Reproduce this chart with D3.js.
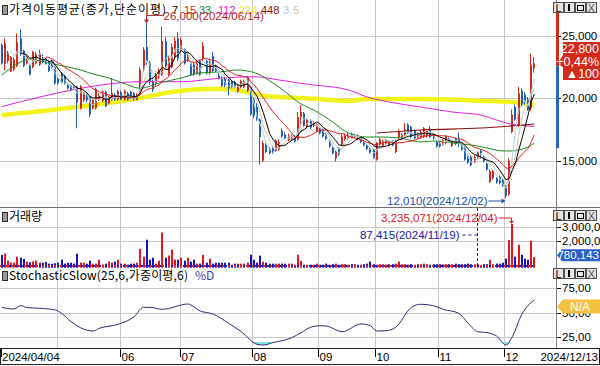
<!DOCTYPE html>
<html><head><meta charset="utf-8">
<script src="https://cdn.jsdelivr.net/npm/d3@7"></script>
<style>
html,body{margin:0;padding:0;background:#fff;overflow:hidden;}
svg{display:block;}
text{font-family:"Liberation Sans",Arial,sans-serif;}
.kr{font-family:"Noto Sans CJK KR","Noto Sans",sans-serif;}
</style></head><body>
<svg id="c" width="600" height="366"></svg>
<script>
// ---------------- DATA ----------------
const firstDate = "2024/04/04", lastDate = "2024/12/13";
const opens = [24250,22750,23000,22150,22300,22600,24800,23800,22800,22700,
22500,22800,22700,23300,23200,23000,23000,22500,21600,22000,
21800,21100,21000,20950,20950,19200,19850,20400,20100,19200,
19200,19900,19800,20500,19600,19900,20250,19900,20500,19900,
20400,20500,20400,19900,20300,22300,24100,22800,21300,21200,
21600,21900,24600,21900,22500,23300,24800,23900,23900,23100,
22800,22700,22000,23000,23200,23000,22000,23400,22500,21800,
21700,21600,21500,21300,21300,20550,20900,20900,20600,20900,
19900,19300,18300,15000,16250,15950,16000,15800,15900,17400,
17100,16650,16750,16950,16700,18500,18800,17700,18200,18000,
17400,17600,17500,17100,16600,16050,15200,16000,16300,16700,
16800,17150,16900,17000,16800,16550,16250,16000,15850,15100,
16300,16200,16350,16250,16500,15700,16700,16800,17100,17900,
17700,17400,16850,16850,16900,16950,17500,17050,16500,16450,
16300,16400,16750,16200,16750,16700,16350,16050,15400,15300,
14900,15200,15800,15300,14750,13300,13600,13600,13700,13450,
13000,12300,17300,19300,17800,20600,20300,19900,19200,22400];
const highs = [24400,24800,23800,23400,23300,25200,25550,23900,23500,22800,
23800,23700,23900,23500,23300,23100,23100,22600,21700,22100,
21900,21200,21100,21050,21000,21050,20500,20500,20200,19950,
20850,20400,20650,20600,20200,21600,20400,20700,20600,20700,
20500,20600,20500,20400,22500,24100,26000,23000,21500,22000,
22400,25750,24900,23400,24400,24900,25300,24900,24000,23700,
22900,22900,22900,23100,24500,23100,23200,23700,22700,22000,
21800,21700,21600,21400,21400,21150,21500,21500,21800,21000,
20100,19600,18400,16600,16400,16100,16200,16700,16700,17600,
17300,17150,17100,17050,18900,19450,18900,18400,18300,18150,
18000,17700,17600,17200,16700,16150,15800,16100,17100,17200,
17200,17250,17150,17100,16900,16650,16350,16100,15950,16500,
16850,16700,16750,16650,16650,16700,17500,17200,18000,18000,
17800,17500,17250,17500,17700,17550,17750,17150,16600,16550,
16750,17050,16850,16600,16850,17250,16450,16150,15500,15400,
15450,15750,15900,15400,14850,14300,14300,13700,13800,13550,
13050,15200,19100,19500,20900,20800,20500,20100,23600,23300];
const lows = [22700,22250,22800,22100,22200,22500,23400,22500,22700,21850,
22400,22700,22600,22800,22700,22100,22400,21100,21100,21200,
21100,20700,20600,20700,17600,19100,19700,19700,18500,19100,
19100,19800,19700,19300,19500,19800,19800,19800,19850,19800,
19800,19950,19800,19850,20200,22100,22700,21100,20500,21000,
21500,21800,22300,21800,22400,23100,23000,23700,22700,22900,
21800,21800,21900,21800,23000,21900,21900,22100,22100,21500,
20900,20900,20250,20800,20800,20450,20800,20800,20500,18600,
18400,18200,14700,14900,15600,15500,15550,15700,15800,16800,
16700,16550,16650,16450,16600,17700,17700,17600,17550,17700,
17300,17100,16850,16650,16050,15500,14950,15400,16200,16600,
16700,16800,16800,16650,16400,16150,15850,15550,15150,15000,
16200,16100,16250,16150,16150,15600,16600,16700,17000,17150,
16800,16700,16750,16750,16800,16850,16800,16700,16050,16050,
16200,16300,16450,16100,16250,16100,15800,15000,14750,14550,
14800,15100,15150,14850,14200,13200,13500,13150,13100,12900,
12010,12200,17200,18200,17700,19300,19500,19000,19000,22050];
const closes = [22800,24400,23600,23300,23100,24500,23600,22600,23400,21900,
23700,23500,23600,22900,22750,22200,22500,21200,21200,21300,
21200,20800,20700,20800,19650,20950,20400,19850,18700,19850,
20750,20250,20550,19350,20100,20400,19900,20550,19900,20600,
19900,20100,19900,20300,22300,23900,22900,21300,20700,21850,
22250,24600,22500,23200,24100,24600,23200,24700,22800,23400,
21900,21900,22800,21900,24200,22000,23000,22200,22200,21600,
21000,21100,20800,20900,20950,21050,21400,21350,21700,18700,
18600,18300,16900,16400,15700,15600,15650,16600,16500,16950,
16800,17000,16950,16550,18500,18900,17800,18300,17650,17800,
17900,17200,16950,16750,16150,15600,15700,15500,16950,17000,
17100,16900,17050,16750,16500,16250,15950,15650,15250,16400,
16700,16600,16650,16550,16250,16600,17400,17100,17500,17250,
16900,16800,17100,17300,17600,17400,16900,16800,16150,16150,
16650,16950,16550,16500,16350,16350,15900,15100,14850,14650,
15300,15650,15600,14950,14300,14150,14200,13250,13200,13000,
12200,15000,18700,18300,20400,19400,19700,19100,22700,22800];
const volumes = [940000,1040000,520000,370000,380000,820000,740000,650000,450000,400000,
470000,520000,380000,360000,430000,300000,290000,330000,380000,600000,
300000,360000,370000,300000,1040000,380000,370000,290000,520000,300000,
300000,590000,230000,300000,450000,380000,450000,590000,300000,300000,
230000,300000,300000,370000,1400000,820000,2070000,600000,740000,300000,
520000,2600000,740000,900000,1330000,600000,590000,740000,520000,740000,
450000,590000,300000,300000,960000,370000,670000,300000,370000,370000,
370000,370000,370000,220000,300000,300000,300000,300000,370000,960000,
590000,370000,890000,450000,370000,300000,300000,300000,300000,300000,
300000,300000,300000,220000,960000,500000,220000,220000,220000,220000,
300000,220000,220000,300000,220000,260000,300000,220000,260000,260000,
220000,260000,260000,220000,220000,260000,300000,450000,260000,220000,
260000,260000,220000,260000,260000,300000,450000,260000,260000,220000,
260000,220000,260000,260000,300000,260000,220000,260000,260000,260000,
260000,260000,260000,260000,300000,260000,260000,260000,300000,260000,
260000,260000,87415,260000,260000,590000,260000,300000,300000,370000,
670000,2050000,3235071,820000,1700000,960000,670000,590000,2000000,780143];

// month starts (trading-day index) and labels
const gridIdx  = [18,38,57,80,101,119,139,160];
const monthIdx = [38,57,80,101,119,139,160];
const monthLbl = ["06","07","08","09","10","11","12"];
const priceTicks = [25000,20000,15000];
const volTicks = [3000000,2000000];
const stochTicks = [75,50,25];

// moving averages: short ones computed from closes, long ones
const ma33Idx = [0,3,6,9,12,15,21,25,29,34,40,44,50,57,63,69,75,78,82,86,88,95,99,105,110,116,120,126,133,137,143,149,154,159,162,164,167,169];
const ma33Val = [21870,22430,22910,23150,22990,22830,22510,22270,21950,21630,21070,20800,21230,21630,22030,22110,22270,22190,21870,21230,20900,19540,19060,18100,17220,16900,16900,16820,16500,16580,16420,16260,16020,15780,15780,15860,16100,16420];
const ma112Idx = [0,12,25,34,44,57,69,80,88,95,99,110,116,123,133,143,152,157,160,164,169];
const ma112Val = [19330,20100,20800,21150,21330,21330,21600,21730,21470,21200,21070,20670,20100,19700,19300,18900,18660,18260,18020,17860,17740];
const ma224Idx = [0,10,21,29,38,44,54,65,72,79,84,88,95,107,110,116,133,154,162,169];
const ma224Val = [18660,18900,19220,19460,19780,20020,20500,20750,20750,20420,20180,20100,20020,19820,19780,19940,19940,19780,19700,19460];
const ma448Idx = [119,133,152,169];
const ma448Val = [17220,17460,17620,17940];

// Stochastic Slow %D
const stochIdx = [0,4,6,8,12,17,19,22,25,29,31,37,42,45,47,51,54,57,59,63,67,72,76,81,83,86,92,95,98,101,103,108,114,117,119,122,125,130,133,137,140,145,148,151,154,157,160,162,165,169];
const stochVal = [55.3,53.6,57,55,54.3,52.6,49.2,40.6,34.5,31.1,33.9,38,45.7,55.3,55.3,53.3,54.9,57.7,58.7,51.5,48.5,39,30.4,17.6,16.8,19.2,24.3,29.4,34.9,36.5,36.2,30.4,38.3,36.5,31.1,31.4,34.9,55.3,58.4,56.9,53.3,49.2,39,30.4,29.4,26,16.8,25.3,48.2,62.8];

// right-edge price range bar (price units)
const rangeBar = [27100, 22600, 16000];

// ---------------- DRAW ----------------
const svg = d3.select('#c');
const N = closes.length;
const UP='#d42a1c', DN='#1f5fb4', VUP='#e8141e', VDN='#1414c8', GRID='#c8c8c8';
const x  = d3.scaleLinear().domain([0,N-1]).range([1.7, 1.7+3.152*(N-1)]);
const yP = d3.scaleLinear().domain([15000,25000]).range([160.7,35.9]);
const yV = d3.scaleLinear().domain([0,3235071]).range([267.7,224]);
const yS = d3.scaleLinear().domain([25,75]).range([337,288]);
const PR = 556; // plot right edge

const defs = svg.append('defs');
defs.append('clipPath').attr('id','cp').append('rect').attr('x',0).attr('y',0).attr('width',PR).attr('height',207);
defs.append('clipPath').attr('id','cs').append('rect').attr('x',0).attr('y',yS(20)).attr('width',PR).attr('height',348-yS(20));

const g = svg.append('g');
gridIdx.forEach(i=>{
  const gx = Math.round(x(i)-1.6)+0.5;
  g.append('line').attr('x1',gx).attr('x2',gx).attr('y1',0).attr('y2',349).attr('stroke',GRID);
});
priceTicks.forEach(t=>{const yy=Math.round(yP(t))+0.5; g.append('line').attr('x1',0).attr('x2',PR).attr('y1',yy).attr('y2',yy).attr('stroke',GRID);});
volTicks.forEach(t=>{const yy=Math.round(yV(t))+0.5; g.append('line').attr('x1',0).attr('x2',PR).attr('y1',yy).attr('y2',yy).attr('stroke',GRID);});
stochTicks.forEach(t=>{const yy=Math.round(yS(t))+0.5; g.append('line').attr('x1',0).attr('x2',PR).attr('y1',yy).attr('y2',yy).attr('stroke',GRID);});

// price panel
const pp = svg.append('g').attr('clip-path','url(#cp)');
const kp = (idx,val)=>idx.map((d,k)=>({i:d,v:val[k]}));
const lineP = d3.line().x(d=>x(d.i)).y(d=>yP(d.v)).curve(d3.curveMonotoneX);
pp.append('path').attr('d',lineP(kp(ma224Idx,ma224Val))).attr('fill','none').attr('stroke','#f2f21a').attr('stroke-width',4.5);

const cg = pp.append('g');
d3.range(N).forEach(i=>{
  const up = closes[i]>=opens[i];
  const col = up?UP:DN;
  const r = Math.round(x(i));
  cg.append('line').attr('x1',r-0.5).attr('x2',r-0.5).attr('y1',yP(highs[i])).attr('y2',yP(lows[i])).attr('stroke',col).attr('stroke-width',1);
  const y1=yP(Math.max(opens[i],closes[i])), y2=yP(Math.min(opens[i],closes[i]));
  cg.append('rect').attr('x',r-1).attr('width',2).attr('y',y1).attr('height',Math.max(1,y2-y1)).attr('fill',col);
});

function sma(p){const out=[];for(let i=p-1;i<N;i++){out.push({i,v:d3.mean(closes.slice(i-p+1,i+1))});}return out;}
const lineL = d3.line().x(d=>x(d.i)).y(d=>yP(d.v));
pp.append('path').attr('d',lineP(kp(ma112Idx,ma112Val))).attr('fill','none').attr('stroke','#e020e0').attr('stroke-width',1);
pp.append('path').attr('d',lineP(kp(ma448Idx,ma448Val))).attr('fill','none').attr('stroke','#8a1010').attr('stroke-width',1.2);
pp.append('path').attr('d',lineP(kp(ma33Idx,ma33Val))).attr('fill','none').attr('stroke','#1e8a1e').attr('stroke-width',1);
const shortCol = {3:'#a8d4e6',5:'#d6c6a4',7:'#000000',15:'#e02020'};
[5,3,15,7].forEach(p=>{
  pp.append('path').attr('d',lineL(sma(p))).attr('fill','none').attr('stroke',shortCol[p]).attr('stroke-width',1);
});

// volume bars
const vg = svg.append('g');
d3.range(N).forEach(i=>{
  const up = closes[i]>=opens[i];
  const r = Math.round(x(i));
  vg.append('rect').attr('x',r-1).attr('width',2).attr('y',yV(volumes[i])).attr('height',Math.max(1,yV(0)-yV(volumes[i]))).attr('fill',up?VUP:VDN);
});

// stochastic
const lineS = d3.line().x(d=>x(d.i)).y(d=>yS(d.v)).curve(d3.curveMonotoneX);
const sp = stochIdx.map((d,k)=>({i:d,v:stochVal[k]}));
const areaS = d3.area().x(d=>x(d.i)).y0(yS(20)).y1(d=>yS(d.v)).curve(d3.curveMonotoneX);
svg.append('path').attr('d',areaS(sp)).attr('fill','#7fe6df').attr('clip-path','url(#cs)');
svg.append('path').attr('d',lineS(sp)).attr('fill','none').attr('stroke','#34287c').attr('stroke-width',1);

// separators / frames
svg.append('line').attr('x1',0).attr('x2',600).attr('y1',207.5).attr('y2',207.5).attr('stroke','#6e6e6e');
svg.append('line').attr('x1',0).attr('x2',x(N-1)).attr('y1',266).attr('y2',266).attr('stroke','#e02020').attr('stroke-width',2).attr('stroke-dasharray','2,4');
svg.append('line').attr('x1',3).attr('x2',x(N-1)).attr('y1',266).attr('y2',266).attr('stroke','#2020c8').attr('stroke-width',2).attr('stroke-dasharray','2,4');
svg.append('line').attr('x1',PR+0.5).attr('x2',PR+0.5).attr('y1',0).attr('y2',349).attr('stroke','#808080');
svg.append('rect').attr('x',0.5).attr('y',348.5).attr('width',599).attr('height',16).attr('fill','none').attr('stroke','#202020');

// right axis labels
const fmt = d3.format(',');
function rtick(yy,label){
  svg.append('line').attr('x1',557).attr('x2',561).attr('y1',Math.round(yy)+0.5).attr('y2',Math.round(yy)+0.5).attr('stroke','#000');
  svg.append('text').attr('x',562).attr('y',yy).attr('dy','0.35em').attr('font-size',11.5).attr('fill','#000').text(label);
}
priceTicks.forEach(t=>rtick(yP(t),fmt(t)));
volTicks.forEach(t=>rtick(yV(t),fmt(t)));
stochTicks.forEach(t=>rtick(yS(t),t+',00'));

// right price range bar
svg.append('rect').attr('x',556).attr('y',yP(rangeBar[0])).attr('width',3).attr('height',yP(rangeBar[1])-yP(rangeBar[0])).attr('fill','#d42a1c');
svg.append('rect').attr('x',556).attr('y',yP(rangeBar[1])).attr('width',3).attr('height',yP(rangeBar[2])-yP(rangeBar[1])).attr('fill','#2a62c0');

// price tag
const last = closes[N-1], prev = closes[N-2];
const chg = last-prev, pct = chg/prev*100;
const ty = yP(last);
svg.append('path').attr('d',`M557,${ty} L563,${ty-8} L563,42 L600,42 L600,80 L563,80 L563,${ty+4} Z`).attr('fill','#d42a1c');
svg.append('text').attr('x',599).attr('y',49).attr('dy','0.35em').attr('text-anchor','end').attr('font-size',12.5).attr('fill','#fff').text(fmt(last));
svg.append('text').attr('x',599).attr('y',61.5).attr('dy','0.35em').attr('text-anchor','end').attr('font-size',12.5).attr('fill','#fff').text((chg>=0?'+':'')+pct.toFixed(2).replace('.',',')+'%');
svg.append('text').attr('x',599).attr('y',74).attr('dy','0.35em').attr('text-anchor','end').attr('font-size',12.5).attr('fill','#fff').text('▲'+Math.abs(chg));

// volume tag
const vy = yV(volumes[N-1]) - 2;
svg.append('path').attr('d',`M557,${vy} L562,${vy-6} L600,${vy-6} L600,${vy+6} L562,${vy+6} Z`).attr('fill','#2a5cc8');
svg.append('text').attr('x',599).attr('y',vy).attr('dy','0.35em').attr('text-anchor','end').attr('font-size',11.5).attr('fill','#fff').text(fmt(volumes[N-1]));
// stochastic N/A tag
const sy = yS(50)-6;
svg.append('path').attr('d',`M557,${sy} L563,${sy-7} L600,${sy-7} L600,${sy+7} L563,${sy+7} Z`).attr('fill','#f4c23e');
svg.append('text').attr('x',580).attr('y',sy).attr('dy','0.35em').attr('text-anchor','middle').attr('font-size',12).attr('fill','#fff').text('N/A');

// panel buttons
function buttons(by){
  [553,564,575,586].forEach(b=>{
    svg.append('rect').attr('x',b+0.5).attr('y',by+0.5).attr('width',10).attr('height',10).attr('fill','#e4e4e4').attr('stroke','#505050');
  });
  svg.append('text').attr('x',558.5).attr('y',by+6).attr('dy','0.35em').attr('text-anchor','middle').attr('font-size',11).attr('fill','#000').text('L');
  svg.append('rect').attr('x',568).attr('y',by+2).attr('width',2).attr('height',7).attr('fill','#000');
  svg.append('rect').attr('x',577.5).attr('y',by+3.5).attr('width',6).attr('height',5).attr('fill','none').attr('stroke','#000');
  svg.append('text').attr('x',591.5).attr('y',by+6).attr('dy','0.35em').attr('text-anchor','middle').attr('font-size',11).attr('fill','#555').text('X');
}
buttons(2); buttons(210); buttons(268);

// panel titles
function icon(iy){
  svg.append('rect').attr('x',2.5).attr('y',iy-4.5).attr('width',5).attr('height',9).attr('fill','#9a9a9a').attr('stroke','#303030');
}
icon(10); icon(217); icon(276);
svg.append('text').attr('class','kr').attr('x',9).attr('y',10).attr('dy','0.35em').attr('font-size',12).attr('textLength',157).attr('lengthAdjust','spacing').attr('fill','#000').text('가격이동평균(종가,단순이평)');
const tnum = [{t:'7',x:172,c:'#000'},{t:'15',x:184,c:'#d82020'},{t:'33',x:199,c:'#1e8a1e'},{t:'112',x:218,c:'#d820d8'},{t:'224',x:239,c:'#e8e820'},{t:'448',x:261,c:'#8a1010'},{t:'3.',x:283,c:'#a8cce0'},{t:'5',x:293,c:'#d6c6a4'}];
tnum.forEach(d=>svg.append('text').attr('x',d.x).attr('y',10).attr('dy','0.35em').attr('font-size',11).attr('fill',d.c).text(d.t));
svg.append('text').attr('class','kr').attr('x',9).attr('y',217).attr('dy','0.35em').attr('font-size',12).attr('fill','#000').text('거래량');
svg.append('text').attr('class','kr').attr('x',9).attr('y',276).attr('dy','0.35em').attr('font-size',12).attr('textLength',179).attr('lengthAdjust','spacing').attr('fill','#000').text('StochasticSlow(25,6,가중이평,6)');
svg.append('text').attr('class','kr').attr('x',195).attr('y',276).attr('dy','0.35em').attr('font-size',12).attr('fill','#4a3ca0').text('%D');

// annotations
const hiI = d3.maxIndex(highs), loI = d3.minIndex(lows);
const vMaxI = d3.maxIndex(volumes), vMinI = d3.minIndex(volumes);
const dateOf = {46:'2024/06/14',160:'2024/12/02',162:'2024/12/04',152:'2024/11/19'};
{ const ax=Math.round(x(hiI))-0.5, ay=yP(highs[hiI]);
  svg.append('path').attr('d',`M${ax},${ay-3} L${ax},${ay-8} L${ax+17},${ay-8}`).attr('fill','none').attr('stroke','#b02828');
  svg.append('path').attr('d',`M${ax-2.5},${ay-4} L${ax+2.5},${ay-4} L${ax},${ay} Z`).attr('fill','#b02828');
  svg.append('text').attr('x',ax+17).attr('y',ay-7).attr('dy','0.35em').attr('font-size',11.5).attr('fill','#b02828').text(fmt(highs[hiI])+'('+dateOf[hiI]+')');
}
{ const lx=Math.round(x(loI))-0.5, ly=yP(lows[loI])+3;
  svg.append('line').attr('x1',lx-17).attr('x2',lx-1).attr('y1',ly).attr('y2',ly).attr('stroke','#2050a0');
  svg.append('path').attr('d',`M${lx},${ly} L${lx-4},${ly-2.5} L${lx-4},${ly+2.5} Z`).attr('fill','#2050a0');
  svg.append('text').attr('x',lx-18).attr('y',ly).attr('dy','0.35em').attr('text-anchor','end').attr('font-size',11.5).attr('fill','#2050a0').text(fmt(lows[loI])+'('+dateOf[loI]+')');
}
{ const vx=Math.round(x(vMaxI))-0.5, vy2=yV(volumes[vMaxI]), ly=vy2-6;
  svg.append('path').attr('d',`M${vx-13},${ly} L${vx},${ly} L${vx},${vy2-2}`).attr('fill','none').attr('stroke','#e02020');
  svg.append('path').attr('d',`M${vx-2.5},${vy2-3} L${vx+2.5},${vy2-3} L${vx},${vy2} Z`).attr('fill','#e02020');
  svg.append('text').attr('x',vx-14).attr('y',ly).attr('dy','0.35em').attr('text-anchor','end').attr('font-size',11.5).attr('fill','#e02020').text(fmt(volumes[vMaxI])+'('+dateOf[vMaxI]+')');
}
{ const mx=Math.round(x(vMinI))-3.5, ly=235;
  svg.append('line').attr('x1',mx-15).attr('x2',mx).attr('y1',ly).attr('y2',ly).attr('stroke','#1a1aa0').attr('stroke-dasharray','3,3');
  svg.append('line').attr('x1',mx).attr('x2',mx).attr('y1',208).attr('y2',yV(volumes[vMinI])).attr('stroke','#1a1aa0').attr('stroke-dasharray','3,2');
  svg.append('text').attr('x',mx-18).attr('y',ly).attr('dy','0.35em').attr('text-anchor','end').attr('font-size',11.5).attr('fill','#1a1aa0').text(fmt(volumes[vMinI])+'('+dateOf[vMinI]+')');
}

// x axis
monthIdx.forEach((i,k)=>{
  const gx = Math.round(x(i)-1.6)+0.5;
  svg.append('line').attr('x1',gx).attr('x2',gx).attr('y1',349).attr('y2',357).attr('stroke','#000');
  svg.append('text').attr('x',gx+1).attr('y',357).attr('dy','0.35em').attr('font-size',11.5).attr('fill','#000').text(monthLbl[k]);
});
svg.append('line').attr('x1',1.5).attr('x2',1.5).attr('y1',349).attr('y2',357).attr('stroke','#000');
svg.append('text').attr('x',2).attr('y',357).attr('dy','0.35em').attr('font-size',11.5).attr('fill','#000').text(firstDate);
svg.append('text').attr('x',598).attr('y',357).attr('dy','0.35em').attr('text-anchor','end').attr('font-size',11.5).attr('fill','#000').text(lastDate);
</script>
</body></html>
